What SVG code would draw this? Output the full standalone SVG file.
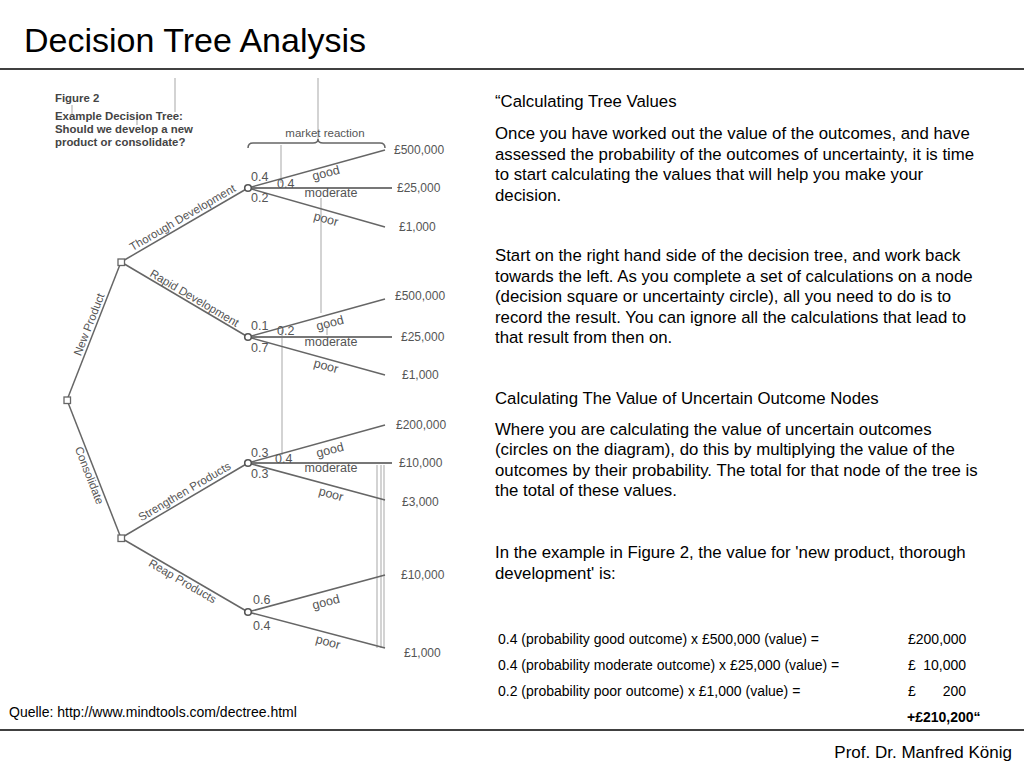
<svg xmlns="http://www.w3.org/2000/svg" width="1024" height="768" viewBox="0 0 1024 768">
<style>
.title{font-family:"Liberation Sans",Arial,sans-serif;font-size:34px;fill:#000}
.body{font-family:"Liberation Sans",Arial,sans-serif;font-size:16.8px;fill:#000}
.tab{font-family:"Liberation Sans",Arial,sans-serif;font-size:14px;fill:#000}
.foot{font-family:"Liberation Sans",Arial,sans-serif;font-size:14px;fill:#000}
.prof{font-family:"Liberation Sans",Arial,sans-serif;font-size:17px;fill:#000}
.cap{font-family:"Liberation Sans",Arial,sans-serif;font-size:11.4px;font-weight:bold;fill:#444}
.br{font-family:"Liberation Sans",Arial,sans-serif;font-size:11.5px;fill:#555}
.oc{font-family:"Liberation Sans",Arial,sans-serif;font-size:12.5px;fill:#555}
.pr{font-family:"Liberation Sans",Arial,sans-serif;font-size:12.5px;fill:#555}
.val{font-family:"Liberation Sans",Arial,sans-serif;font-size:12px;fill:#555}
.mr{font-family:"Liberation Sans",Arial,sans-serif;font-size:11.5px;fill:#555}
.rule{stroke:#000;stroke-width:1.5}
.edge{stroke:#666;stroke-width:1.5;fill:none}
.mod{stroke:#777;stroke-width:2;fill:none}
.art{stroke:#c4c4c4;stroke-width:1.5}
.sq{fill:#fff;stroke:#666;stroke-width:1.3}
.ci{fill:#fff;stroke:#555;stroke-width:1.6}
</style>

<text class="title" x="24" y="52">Decision Tree Analysis</text>
<line class="rule" x1="0" y1="69" x2="1024" y2="69"/>
<line class="rule" x1="0" y1="730" x2="1024" y2="730"/>

<g id="artifacts">
<line class="art" x1="175" y1="78" x2="175" y2="112"/>
<line class="art" x1="318" y1="78" x2="318" y2="141"/>
<line class="art" x1="281" y1="145" x2="281" y2="183"/>
<line class="art" x1="321" y1="198" x2="321" y2="313"/>
<line class="art" x1="327" y1="325" x2="327" y2="335"/>
<line class="art" x1="282" y1="330" x2="282" y2="455"/>
<line class="art" x1="377" y1="465" x2="377" y2="648"/>
<line class="art" x1="381" y1="465" x2="381" y2="648"/>
<line class="art" x1="384" y1="465" x2="384" y2="648"/>
<line class="art" x1="72" y1="105" x2="72" y2="114"/>
<line class="art" x1="137" y1="114" x2="137" y2="125"/>
</g>

<g id="caption">
<text class="cap" x="55" y="102">Figure 2</text>
<text class="cap" x="55" y="120">Example Decision Tree:</text>
<text class="cap" x="55" y="133">Should we develop a new</text>
<text class="cap" x="55" y="146">product or consolidate?</text>
</g>

<g id="market-reaction">
<text class="mr" x="325" y="137" text-anchor="middle">market reaction</text>
<path class="edge" stroke-width="1.2" d="M248,148 Q248,143 253,143 L313,143 Q318,143 318,139 Q318,143 323,143 L380,143 Q385,143 385,148"/>
</g>

<g id="connectors">
<line class="edge" x1="67" y1="400" x2="121" y2="262"/>
<line class="edge" x1="67" y1="400" x2="121" y2="538"/>
<line class="edge" x1="121" y1="262" x2="248" y2="188"/>
<line class="edge" x1="121" y1="262" x2="248" y2="337"/>
<line class="edge" x1="121" y1="538" x2="248" y2="463"/>
<line class="edge" x1="121" y1="538" x2="248" y2="612"/>
<line class="edge" x1="248" y1="188" x2="385" y2="150"/>
<line class="mod" x1="248" y1="188" x2="392" y2="188"/>
<line class="edge" x1="248" y1="188" x2="385" y2="227"/>
<line class="edge" x1="248" y1="337" x2="385" y2="299"/>
<line class="mod" x1="248" y1="337" x2="392" y2="337"/>
<line class="edge" x1="248" y1="337" x2="385" y2="375"/>
<line class="edge" x1="248" y1="463" x2="385" y2="425"/>
<line class="mod" x1="248" y1="463" x2="392" y2="463"/>
<line class="edge" x1="248" y1="463" x2="385" y2="500"/>
<line class="edge" x1="248" y1="612" x2="385" y2="575"/>
<line class="edge" x1="248" y1="612" x2="385" y2="648"/>

<text class="br" text-anchor="middle" transform="translate(186,223.5) rotate(-30.2)" y="-3">Thorough Development</text>
<text class="br" text-anchor="middle" transform="translate(191,304) rotate(30.6)" y="-3">Rapid Development</text>
<text class="br" text-anchor="middle" transform="translate(95.5,327) rotate(-68.6)" y="-3">New Product</text>
<text class="br" text-anchor="middle" transform="translate(95.5,473) rotate(68.6)" y="10.5">Consolidate</text>
<text class="br" text-anchor="middle" transform="translate(188,497.5) rotate(-30.6)" y="-3">Strengthen Products</text>
<text class="br" text-anchor="middle" transform="translate(186,575.5) rotate(30.2)" y="10.5">Reap Products</text>
</g>

<g id="root"><rect class="sq" x="64" y="397" width="6.5" height="6.5"/></g>
<g id="new-product"><rect class="sq" x="118" y="259" width="6.5" height="6.5"/></g>
<g id="consolidate"><rect class="sq" x="118" y="535" width="6.5" height="6.5"/></g>

<g id="thorough">
<circle class="ci" cx="248" cy="188" r="3.3"/>
<text class="pr" x="251" y="181">0.4</text>
<text class="pr" x="277" y="188">0.4</text>
<text class="pr" x="251" y="202">0.2</text>
<text class="oc" text-anchor="middle" transform="translate(327,177) rotate(-15)">good</text>
<text class="oc" text-anchor="middle" x="331" y="197">moderate</text>
<text class="oc" text-anchor="middle" transform="translate(325,223) rotate(15)">poor</text>
<text class="val" x="394" y="154">£500,000</text>
<text class="val" x="397" y="192">£25,000</text>
<text class="val" x="399" y="231">£1,000</text>
</g>

<g id="rapid">
<circle class="ci" cx="248" cy="337" r="3.3"/>
<text class="pr" x="251" y="330">0.1</text>
<text class="pr" x="277" y="335">0.2</text>
<text class="pr" x="251" y="352">0.7</text>
<text class="oc" text-anchor="middle" transform="translate(331,327) rotate(-15)">good</text>
<text class="oc" text-anchor="middle" x="331" y="346">moderate</text>
<text class="oc" text-anchor="middle" transform="translate(325,370) rotate(15)">poor</text>
<text class="val" x="395" y="300">£500,000</text>
<text class="val" x="401" y="341">£25,000</text>
<text class="val" x="402" y="379">£1,000</text>
</g>

<g id="strengthen">
<circle class="ci" cx="248" cy="463" r="3.3"/>
<text class="pr" x="251" y="457">0.3</text>
<text class="pr" x="275" y="463">0.4</text>
<text class="pr" x="251" y="478">0.3</text>
<text class="oc" text-anchor="middle" transform="translate(331,454) rotate(-15)">good</text>
<text class="oc" text-anchor="middle" x="331" y="472">moderate</text>
<text class="oc" text-anchor="middle" transform="translate(330,498) rotate(15)">poor</text>
<text class="val" x="396" y="429">£200,000</text>
<text class="val" x="399" y="467">£10,000</text>
<text class="val" x="402" y="506">£3,000</text>
</g>

<g id="reap">
<circle class="ci" cx="248" cy="612" r="3.3"/>
<text class="pr" x="253" y="604">0.6</text>
<text class="pr" x="253" y="630">0.4</text>
<text class="oc" text-anchor="middle" transform="translate(327,606) rotate(-15)">good</text>
<text class="oc" text-anchor="middle" transform="translate(327,646) rotate(15)">poor</text>
<text class="val" x="401" y="579">£10,000</text>
<text class="val" x="404" y="657">£1,000</text>
</g>

<g id="text">
<text class="body" x="495" y="107">“Calculating Tree Values</text>
<text class="body" x="495" y="139">Once you have worked out the value of the outcomes, and have</text>
<text class="body" x="495" y="159.5">assessed the probability of the outcomes of uncertainty, it is time</text>
<text class="body" x="495" y="180">to start calculating the values that will help you make your</text>
<text class="body" x="495" y="200.5">decision.</text>
<text class="body" x="495" y="261">Start on the right hand side of the decision tree, and work back</text>
<text class="body" x="495" y="281.5">towards the left. As you complete a set of calculations on a node</text>
<text class="body" x="495" y="302">(decision square or uncertainty circle), all you need to do is to</text>
<text class="body" x="495" y="322.5">record the result. You can ignore all the calculations that lead to</text>
<text class="body" x="495" y="343">that result from then on.</text>
<text class="body" x="495" y="404">Calculating The Value of Uncertain Outcome Nodes</text>
<text class="body" x="495" y="434.5">Where you are calculating the value of uncertain outcomes</text>
<text class="body" x="495" y="455">(circles on the diagram), do this by multiplying the value of the</text>
<text class="body" x="495" y="475.5">outcomes by their probability. The total for that node of the tree is</text>
<text class="body" x="495" y="496">the total of these values.</text>
<text class="body" x="495" y="558">In the example in Figure 2, the value for 'new product, thorough</text>
<text class="body" x="495" y="578.5">development' is:</text>
</g>

<g id="table">
<text class="tab" x="498" y="644">0.4 (probability good outcome) x £500,000 (value) =</text>
<text class="tab" x="498" y="670">0.4 (probability moderate outcome) x £25,000 (value) =</text>
<text class="tab" x="498" y="696">0.2 (probability poor outcome) x £1,000 (value) =</text>
<text class="tab" x="908" y="644">£200,000</text>
<text class="tab" x="908" y="670">£</text>
<text class="tab" x="966" y="670" text-anchor="end">10,000</text>
<text class="tab" x="908" y="696">£</text>
<text class="tab" x="966" y="696" text-anchor="end">200</text>
<text class="tab" x="907" y="722" font-weight="bold">+£210,200“</text>
</g>

<text class="foot" x="9" y="717">Quelle: http://www.mindtools.com/dectree.html</text>
<text class="prof" x="1012" y="758" text-anchor="end">Prof. Dr. Manfred König</text>
</svg>
